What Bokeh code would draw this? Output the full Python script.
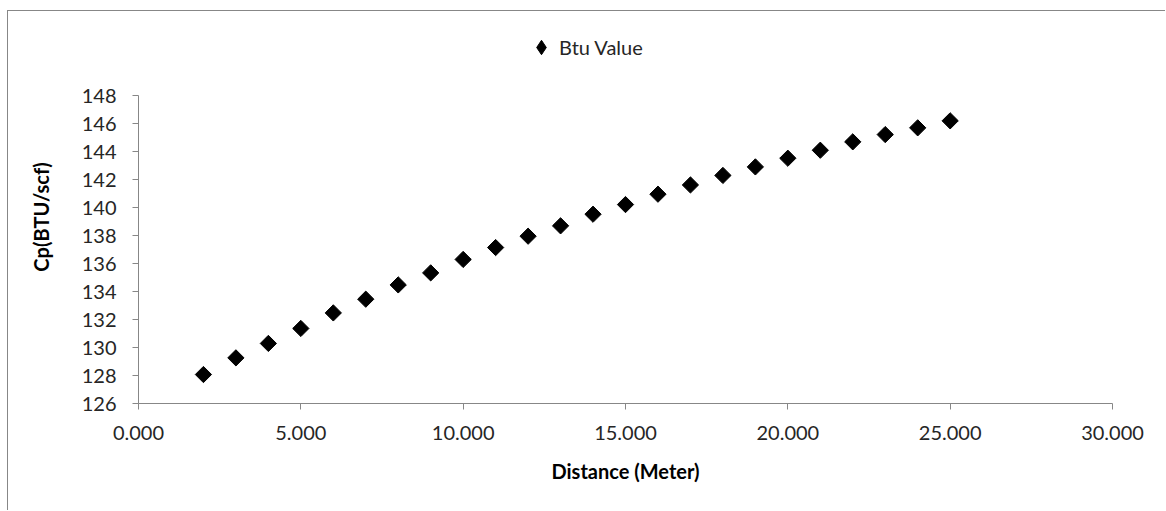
from bokeh.plotting import figure
from bokeh.models import (Range1d, SingleIntervalTicker, NumeralTickFormatter,
                          Legend, LegendItem, ColumnDataSource)
from bokeh.embed import file_html
from bokeh.resources import INLINE
import math

# Heating value measured along the line
distance_m = [2, 3, 4, 5, 6, 7, 8, 9, 10, 11, 12, 13,
              14, 15, 16, 17, 18, 19, 20, 21, 22, 23, 24, 25]
btu_value = [128.07, 129.26, 130.29, 131.36, 132.47, 133.45, 134.47, 135.33,
             136.29, 137.14, 137.95, 138.69, 139.52, 140.21, 140.95, 141.61,
             142.29, 142.90, 143.52, 144.09, 144.69, 145.21, 145.69, 146.19]
y_axis_min, y_axis_max = 126, 148
x_axis_min, x_axis_max = 0, 30
series_name = "Btu Value"
x_title = "Distance (Meter)"
y_title = "Cp(BTU/scf)"

FONT = "Lato"
GREY = "#878787"
TEXT = "#262626"

# The plot frame runs up into the header band so the legend can sit there;
# the y axis line itself is bounded to the data scale.
FRAME_H = 373          # px
PX_PER_UNIT = 14.0     # px per BTU/scf
y_top = y_axis_min + FRAME_H / PX_PER_UNIT

src = ColumnDataSource(dict(x=distance_m, y=btu_value))

p = figure(width=1158, height=500, output_backend="svg", toolbar_location=None,
           x_range=Range1d(x_axis_min, x_axis_max),
           y_range=Range1d(y_axis_min, y_top),
           min_border_left=130, min_border_right=54,
           min_border_top=19, min_border_bottom=108)
p.margin = (10, 0, 0, 7)
p.styles = {"border-left": f"1px solid {GREY}", "border-top": f"1px solid {GREY}"}
p.outline_line_color = None
p.background_fill_color = "white"
p.border_fill_color = "white"
p.grid.visible = False

# legend key renderer: zero-size diamonds (hidden beneath the data points);
# legend glyphs ignore marker angle, so the key uses the diamond marker
key = p.scatter("x", "y", source=src, marker="diamond", size=0,
                fill_color="black", line_color="black", line_width=1)

# data points: squares turned 45 degrees
pts = p.scatter("x", "y", source=src, marker="square", size=11.5,
                angle=math.pi / 4, fill_color="black", line_color="black",
                line_width=1)

for ax in (p.xaxis[0], p.yaxis[0]):
    ax.axis_line_color = GREY
    ax.major_tick_line_color = GREY
    ax.minor_tick_line_color = None
    ax.major_tick_in = 0
    ax.major_tick_out = 6
    ax.major_label_text_font = FONT
    ax.major_label_text_font_size = "20px"
    ax.major_label_text_color = TEXT
    ax.axis_label_text_font = FONT
    ax.axis_label_text_font_size = "20px"
    ax.axis_label_text_font_style = "bold"
    ax.axis_label_text_color = "#000000"

p.xaxis.ticker = SingleIntervalTicker(interval=5, num_minor_ticks=0)
p.xaxis.formatter = NumeralTickFormatter(format="0.000")
p.xaxis.axis_label = x_title
p.xaxis.major_label_standoff = 16
p.xaxis.axis_label_standoff = 16

p.yaxis.ticker = SingleIntervalTicker(interval=2, num_minor_ticks=0)
p.yaxis.bounds = (y_axis_min, y_axis_max)
p.yaxis.axis_label = y_title
p.yaxis.major_label_standoff = 16
p.yaxis.axis_label_standoff = 26

legend = Legend(items=[LegendItem(label=series_name, renderers=[key])],
                location=(385, 338), orientation="horizontal",
                padding=0, margin=0, spacing=0,
                glyph_width=36, glyph_height=36, label_standoff=0,
                label_text_font=FONT, label_text_font_size="20px",
                label_text_color=TEXT, border_line_color=None,
                background_fill_alpha=0)
p.add_layout(legend, "center")

open("out.html", "w").write(file_html(p, INLINE))
